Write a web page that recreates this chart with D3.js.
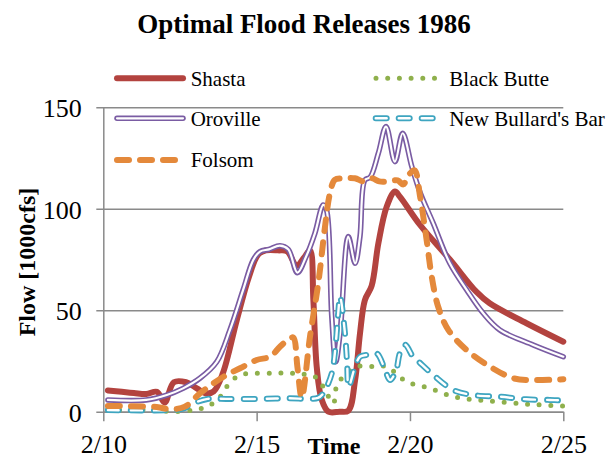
<!DOCTYPE html>
<html>
<head>
<meta charset="utf-8">
<script src="https://cdn.jsdelivr.net/npm/d3@7/dist/d3.min.js"></script>
<style>
  html, body { margin: 0; padding: 0; background: #fff; }
  svg { display: block; }
  svg text { font-family: "Liberation Serif", "Times New Roman", serif; }
</style>
</head>
<body>
<svg id="chart" width="611" height="459"></svg>
<script>
// Daily flood releases, February 1986 (day of month, flow in 1000 cfs)
const xTicks = [10, 15, 20, 25];
const xTickLabels = ["2/10", "2/15", "2/20", "2/25"];
const yTicks = [0, 50, 100, 150];

const shastaDays = [10.15, 10.6, 11.0, 11.4, 11.75, 12.0, 12.3, 12.7, 13.05, 13.35, 13.6, 13.9, 14.35, 14.75, 15.05, 15.3, 15.7, 16.0, 16.3, 16.55, 16.74, 16.85, 16.96, 17.12, 17.34, 17.7, 17.99, 18.21, 18.37, 18.53, 18.75, 18.97, 19.24, 19.51, 19.67, 20.33, 21.3, 22.17, 22.6, 23.8, 25];
const shastaFlow = [10.5, 9.8, 9.2, 8.7, 9.8, 4.5, 14.5, 14.5, 11.5, 9.0, 10.0, 19, 45, 66.5, 77.5, 79.5, 79.5, 79, 72, 76, 79.5, 55, 22, 6, 0, 0, 0.5, 15.5, 38.5, 55, 62, 83, 101, 108.5, 106, 92, 75, 59, 53.4, 43.6, 34.5];

const orovilleDays = [10.15, 11.4, 12.07, 12.6, 13.15, 13.7, 14.13, 14.56, 14.89, 15.11, 15.4, 15.76, 16.03, 16.33, 16.6, 16.9, 17.17, 17.28, 17.45, 17.58, 17.72, 17.99, 18.21, 18.37, 18.53, 18.7, 18.97, 19.22, 19.51, 19.76, 20.06, 20.33, 20.76, 21.3, 21.85, 22.39, 22.93, 24.02, 25];
const orovilleFlow = [5.8, 5.8, 8.2, 11.5, 16.5, 24.6, 40.3, 60, 74.8, 78.9, 80, 81.8, 80, 68.5, 76, 87.9, 101.9, 99.4, 46.8, 24.6, 38.6, 86.3, 73.1, 86.3, 114.2, 115.5, 127.4, 140.5, 123.2, 137.2, 120.8, 108, 92.8, 73.1, 60, 48.5, 40.3, 32.9, 27.1];

const folsomDays = [10.15, 11.74, 12.17, 12.66, 13.15, 13.59, 14.02, 14.46, 15.0, 15.44, 15.76, 16.09, 16.2, 16.33, 16.47, 16.74, 17.01, 17.23, 17.39, 17.55, 17.8, 18.2, 18.5, 18.75, 19.0, 19.3, 19.6, 19.78, 19.95, 20.15, 20.33, 20.54, 20.71, 20.92, 21.25, 21.85, 22.61, 23.37, 24.02, 25];
const folsomFlow = [2.8, 2.3, 1.2, 2.5, 9, 14, 18.1, 21.4, 25.5, 27.1, 32, 36.2, 36.5, 22, 7, 37, 63.3, 91.2, 107.6, 114.3, 115, 115, 113.5, 115, 113.5, 113.5, 114, 112, 116.5, 119, 106, 85, 66.5, 51.7, 40.3, 30.4, 22.2, 16.5, 15.6, 16];

const blackButteDays = [10.15, 11.7, 12.2, 12.9, 13.3, 13.6, 13.9, 14.1, 14.46, 14.8, 15.5, 16.0, 16.5, 16.9, 17.17, 17.5, 17.61, 17.83, 18.26, 18.8, 19.24, 19.89, 20.65, 21.41, 22.17, 22.93, 23.69, 24.3, 25];
const blackButteFlow = [0.8, 0.8, 0, 0.8, 2, 4.4, 9, 14, 18.1, 18.8, 19, 19, 18.5, 17.3, 12.3, 4.1, 12.7, 17.3, 22.2, 22.2, 22.2, 14.8, 11.5, 7.4, 5.8, 4.9, 3.8, 3.3, 2.8];

const bullardsDays = [10.15, 12.2, 12.6, 13.0, 13.4, 14.0, 15.0, 16.0, 17.0, 17.17, 17.45, 17.55, 17.66, 17.72, 17.88, 17.95, 18.0, 18.21, 18.37, 18.6, 18.91, 19.15, 19.35, 19.55, 19.67, 19.84, 20.1, 20.22, 20.76, 21.41, 22.06, 22.93, 23.8, 24.56, 25];
const bullardsFlow = [0.8, 0.8, 1.5, 4.5, 6.3, 6.3, 6.3, 6.6, 6.8, 9, 18.9, 28.8, 48.5, 56.7, 38.6, 23.8, 12.3, 22.2, 27.1, 28, 28.8, 22.2, 15.6, 20.5, 28.8, 33, 27, 25.5, 18.1, 10.7, 8.2, 7.4, 6.1, 5.8, 5.5];

const seriesNames = ["Shasta", "Black Butte", "Oroville", "New Bullard's Bar", "Folsom"];

const serif = "'Liberation Serif', 'Times New Roman', serif";
const svg = d3.select("#chart");
const gray = "#8a8a8a";

const x = d3.scaleLinear().domain([10, 25]).range([103.3, 563.3]);
const y = d3.scaleLinear().domain([0, 150]).range([411.7, 107.3]);

// Title
svg.append("text")
  .attr("x", 304).attr("y", 33)
  .attr("text-anchor", "middle")
  .style("font-family", serif)
  .attr("font-size", 27).attr("font-weight", "bold")
  .text("Optimal Flood Releases 1986");

// Y axis with gridlines
const yAxis = svg.append("g")
  .attr("transform", `translate(${x(10)},0)`)
  .call(d3.axisLeft(y).tickValues(yTicks).tickSize(-(x(25) - x(10))).tickSizeOuter(0).tickPadding(21.6));
yAxis.selectAll(".tick line").attr("x1", -7).attr("stroke", gray).attr("stroke-width", 1.5);
yAxis.select(".domain").attr("stroke", gray).attr("stroke-width", 1.5);
yAxis.selectAll(".tick text")
  .style("font-family", serif).style("font-size", "26px")
  .attr("fill", "#000").attr("dy", "0.36em");

// X axis
const xAxis = svg.append("g")
  .attr("transform", `translate(0,${y(0)})`)
  .call(d3.axisBottom(x).tickValues(xTicks).tickFormat((d, i) => xTickLabels[i]).tickSize(9.5).tickSizeOuter(0).tickPadding(13.5));
xAxis.selectAll(".tick line").attr("stroke", gray).attr("stroke-width", 1.5);
xAxis.select(".domain").attr("stroke", gray).attr("stroke-width", 1.5);
xAxis.selectAll(".tick text")
  .style("font-family", serif).style("font-size", "26px")
  .attr("fill", "#000");

// Axis titles
svg.append("text")
  .attr("x", 334).attr("y", 453.5)
  .attr("text-anchor", "middle")
  .style("font-family", serif)
  .attr("font-size", 24).attr("font-weight", "bold")
  .text("Time");
svg.append("text")
  .attr("transform", "translate(35,262) rotate(-90)")
  .attr("text-anchor", "middle")
  .style("font-family", serif)
  .attr("font-size", 24).attr("font-weight", "bold")
  .text("Flow [1000cfs]");

// Line styles per reservoir
const styles = {
  "Shasta": [{ stroke: "#b3433f", width: 6, dash: null }],
  "Black Butte": [{ stroke: "#8fb04c", width: 5, dash: "0,11.7" }],
  "Oroville": [{ stroke: "#7a5ca3", width: 5.5, dash: null }, { stroke: "#fff", width: 2.2, dash: null }],
  "New Bullard's Bar": [{ stroke: "#3ea5c0", width: 6, dash: "11,12" }, { stroke: "#fff", width: 2.4, dash: "11,12" }],
  "Folsom": [{ stroke: "#e4893b", width: 6, dash: "12,11" }]
};

const seriesData = {
  "Shasta": shastaDays.map((d, i) => [d, shastaFlow[i]]),
  "Black Butte": blackButteDays.map((d, i) => [d, blackButteFlow[i]]),
  "Oroville": orovilleDays.map((d, i) => [d, orovilleFlow[i]]),
  "New Bullard's Bar": bullardsDays.map((d, i) => [d, bullardsFlow[i]]),
  "Folsom": folsomDays.map((d, i) => [d, folsomFlow[i]])
};

const line = d3.line()
  .x(d => x(d[0]))
  .y(d => y(d[1]))
  .curve(d3.curveCatmullRom.alpha(0.5));

function strokePath(sel, st) {
  sel.attr("fill", "none")
    .attr("stroke", st.stroke)
    .attr("stroke-width", st.width)
    .attr("stroke-linecap", "round")
    .attr("stroke-linejoin", "round");
  if (st.dash) sel.attr("stroke-dasharray", st.dash);
}

const plot = svg.append("g");
seriesNames.forEach(name => {
  styles[name].forEach(st => {
    plot.append("path").datum(seriesData[name]).attr("d", line).call(strokePath, st);
  });
});

// Legend: two columns, filled row by row
const legendRows = [78.3, 118.3, 160];
const legendCols = [{ x0: 117, x1: 183, tx: 190.7 }, { x0: 376, x1: 436, tx: 449.3 }];
seriesNames.forEach((name, i) => {
  const col = legendCols[i % 2];
  const ly = legendRows[Math.floor(i / 2)];
  let x0 = col.x0, x1 = col.x1;
  if (name === "New Bullard's Bar") { x0 = 375.7; x1 = 432.7; }
  if (name === "Folsom") { x1 = 175; }
  styles[name].forEach(st => {
    svg.append("path")
      .attr("d", `M${x0},${ly}L${x1},${ly}`)
      .call(strokePath, st);
  });
  svg.append("text")
    .attr("x", col.tx).attr("y", ly + 7.3)
    .style("font-family", serif)
    .attr("font-size", 21)
    .text(name);
});
</script>
</body>
</html>
